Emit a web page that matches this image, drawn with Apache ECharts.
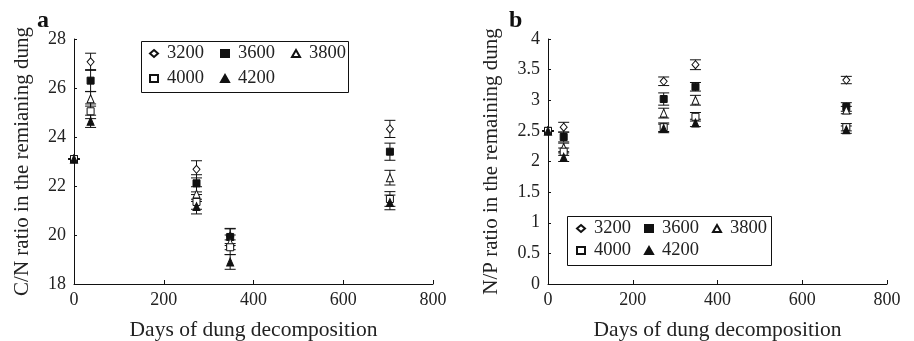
<!DOCTYPE html>
<html>
<head>
<meta charset="utf-8">
<script src="https://cdn.jsdelivr.net/npm/echarts@6/dist/echarts.min.js"></script>
<style>
  html, body { margin: 0; padding: 0; background: #fff; }
  #chart { width: 914px; height: 341px; }
</style>
</head>
<body>
<div id="chart"></div>
<script>
const days = [0, 37, 273, 348, 704];
const names = ['3200', '3600', '3800', '4000', '4200'];

// C/N ratio (panel a)
const cn3200 = [23.1, 27.07, 22.68, 19.95, 24.33];
const cn3600 = [23.1, 26.3, 22.11, 19.92, 23.4];
const cn3800 = [23.1, 25.56, 21.67, 19.7, 22.34];
const cn4000 = [23.1, 25.05, 21.35, 19.5, 21.47];
const cn4200 = [23.1, 24.64, 21.16, 18.9, 21.33];
const cn3200Err = [0, 0.35, 0.35, 0.3, 0.35];
const cn3600Err = [0, 0.45, 0.35, 0.35, 0.35];
const cn3800Err = [0, 0.3, 0.3, 0.3, 0.3];
const cn4000Err = [0, 0.3, 0.3, 0.3, 0.3];
const cn4200Err = [0, 0.25, 0.3, 0.3, 0.3];

// N/P ratio (panel b)
const np3200 = [2.5, 2.56, 3.31, 3.58, 3.33];
const np3600 = [2.5, 2.4, 3.02, 3.22, 2.89];
const np3800 = [2.5, 2.23, 2.79, 3.0, 2.84];
const np4000 = [2.5, 2.16, 2.56, 2.73, 2.56];
const np4200 = [2.5, 2.07, 2.54, 2.63, 2.52];
const np3200Err = [0, 0.08, 0.07, 0.08, 0.06];
const np3600Err = [0, 0.08, 0.1, 0.07, 0.07];
const np3800Err = [0, 0.07, 0.08, 0.08, 0.06];
const np4000Err = [0, 0.06, 0.07, 0.07, 0.06];
const np4200Err = [0, 0.07, 0.07, 0.06, 0.06];

const FONT = 'Liberation Serif';
const INK = '#222';

const markers = {
  '3200': { symbol: 'diamond', hollow: true },
  '3600': { symbol: 'rect', hollow: false },
  '3800': { symbol: 'triangle', hollow: true },
  '4000': { symbol: 'rect', hollow: true },
  '4200': { symbol: 'triangle', hollow: false }
};

function errSeries(idx, vals, errs) {
  return {
    type: 'custom',
    xAxisIndex: idx, yAxisIndex: idx,
    silent: true,
    z: 1,
    clip: false,
    data: days.map((d, i) => [d, vals[i] - errs[i], vals[i] + errs[i]]),
    renderItem(params, api) {
      const lo = api.coord([api.value(0), api.value(1)]);
      const hi = api.coord([api.value(0), api.value(2)]);
      const hw = 5.5;
      const st = { stroke: '#111', lineWidth: 1 };
      return {
        type: 'group',
        children: [
          { type: 'line', shape: { x1: lo[0], y1: lo[1], x2: hi[0], y2: hi[1] }, style: st },
          { type: 'line', shape: { x1: lo[0] - hw, y1: lo[1], x2: lo[0] + hw, y2: lo[1] }, style: st },
          { type: 'line', shape: { x1: hi[0] - hw, y1: hi[1], x2: hi[0] + hw, y2: hi[1] }, style: st }
        ]
      };
    }
  };
}

function pointSeries(idx, name, vals) {
  const m = markers[name];
  return {
    name: name,
    type: 'scatter',
    xAxisIndex: idx, yAxisIndex: idx,
    symbol: m.symbol,
    symbolSize: m.symbol === 'rect' ? 7 : [7, 8],
    z: 3,
    itemStyle: {
      color: m.hollow ? '#fff' : '#111',
      borderColor: '#111',
      borderWidth: 1,
      opacity: 1
    },
    data: days.map((d, i) => [d, vals[i]])
  };
}

const panelA = [[cn3200, cn3200Err], [cn3600, cn3600Err], [cn3800, cn3800Err], [cn4000, cn4000Err], [cn4200, cn4200Err]];
const panelB = [[np3200, np3200Err], [np3600, np3600Err], [np3800, np3800Err], [np4000, np4000Err], [np4200, np4200Err]];

const series = [];
[panelA, panelB].forEach((panel, idx) => {
  panel.forEach(([vals, errs]) => series.push(errSeries(idx, vals, errs)));
});
[panelA, panelB].forEach((panel, idx) => {
  panel.forEach(([vals], k) => series.push(pointSeries(idx, names[k], vals)));
});

function xAxisOf(idx) {
  return {
    gridIndex: idx,
    type: 'value',
    min: 0, max: 800, interval: 200,
    name: 'Days of dung decomposition',
    nameLocation: 'middle',
    nameGap: 35,
    nameTextStyle: { fontFamily: FONT, fontSize: 21.5, color: INK },
    axisLine: { lineStyle: { color: '#111', width: 1 } },
    axisTick: { inside: true, length: 4, lineStyle: { color: '#111' } },
    axisLabel: { fontFamily: FONT, fontSize: 18, color: INK, margin: 7 },
    splitLine: { show: false }
  };
}

function yAxisOf(idx, min, max, interval, name, gap) {
  return {
    gridIndex: idx,
    type: 'value',
    min: min, max: max, interval: interval,
    name: name,
    nameLocation: 'middle',
    nameGap: gap,
    nameTextStyle: { fontFamily: FONT, fontSize: 21, color: INK },
    axisLine: { show: true, lineStyle: { color: '#111', width: 1 } },
    axisTick: { show: true, inside: true, length: 3, lineStyle: { color: '#111' } },
    axisLabel: { fontFamily: FONT, fontSize: 18, color: INK, margin: 8 },
    splitLine: { show: false }
  };
}

function legendRow(left, top, data, gap) {
  return {
    left: left, top: top,
    data: data,
    selectedMode: false,
    itemGap: gap,
    itemWidth: 8,
    itemHeight: 7,
    padding: 0,
    textStyle: { fontFamily: FONT, fontSize: 18.5, color: INK, padding: [0, 0, 0, 4] }
  };
}

const chart = echarts.init(document.getElementById('chart'));
chart.setOption({
  backgroundColor: '#fff',
  animation: false,
  grid: [
    { left: 74, top: 39, width: 359, height: 245, outerBoundsMode: 'none' },
    { left: 548, top: 39, width: 339, height: 245, outerBoundsMode: 'none' }
  ],
  xAxis: [xAxisOf(0), xAxisOf(1)],
  yAxis: [
    yAxisOf(0, 18, 28, 2, 'C/N ratio in the remianing dung', 41),
    yAxisOf(1, 0, 4, 0.5, 'N/P ratio in the remaining dung', 46)
  ],
  legend: [
    legendRow(149, 44, names.slice(0, 3), 16),
    legendRow(149, 69, names.slice(3), 16),
    legendRow(576, 219, names.slice(0, 3), 13),
    legendRow(576, 241, names.slice(3), 13)
  ],
  graphic: [
    { type: 'rect', shape: { x: 141.5, y: 41.5, width: 207, height: 51 },
      style: { fill: 'none', stroke: '#111', lineWidth: 1 }, z: 10 },
    { type: 'rect', shape: { x: 567.5, y: 216.5, width: 204, height: 49 },
      style: { fill: 'none', stroke: '#111', lineWidth: 1 }, z: 10 },
    { type: 'text', left: 37, top: 9,
      style: { text: 'a', font: 'bold 24px "Liberation Serif"', fill: '#111' } },
    { type: 'text', left: 509, top: 9,
      style: { text: 'b', font: 'bold 24px "Liberation Serif"', fill: '#111' } }
  ],
  series: series
});
</script>
</body>
</html>
